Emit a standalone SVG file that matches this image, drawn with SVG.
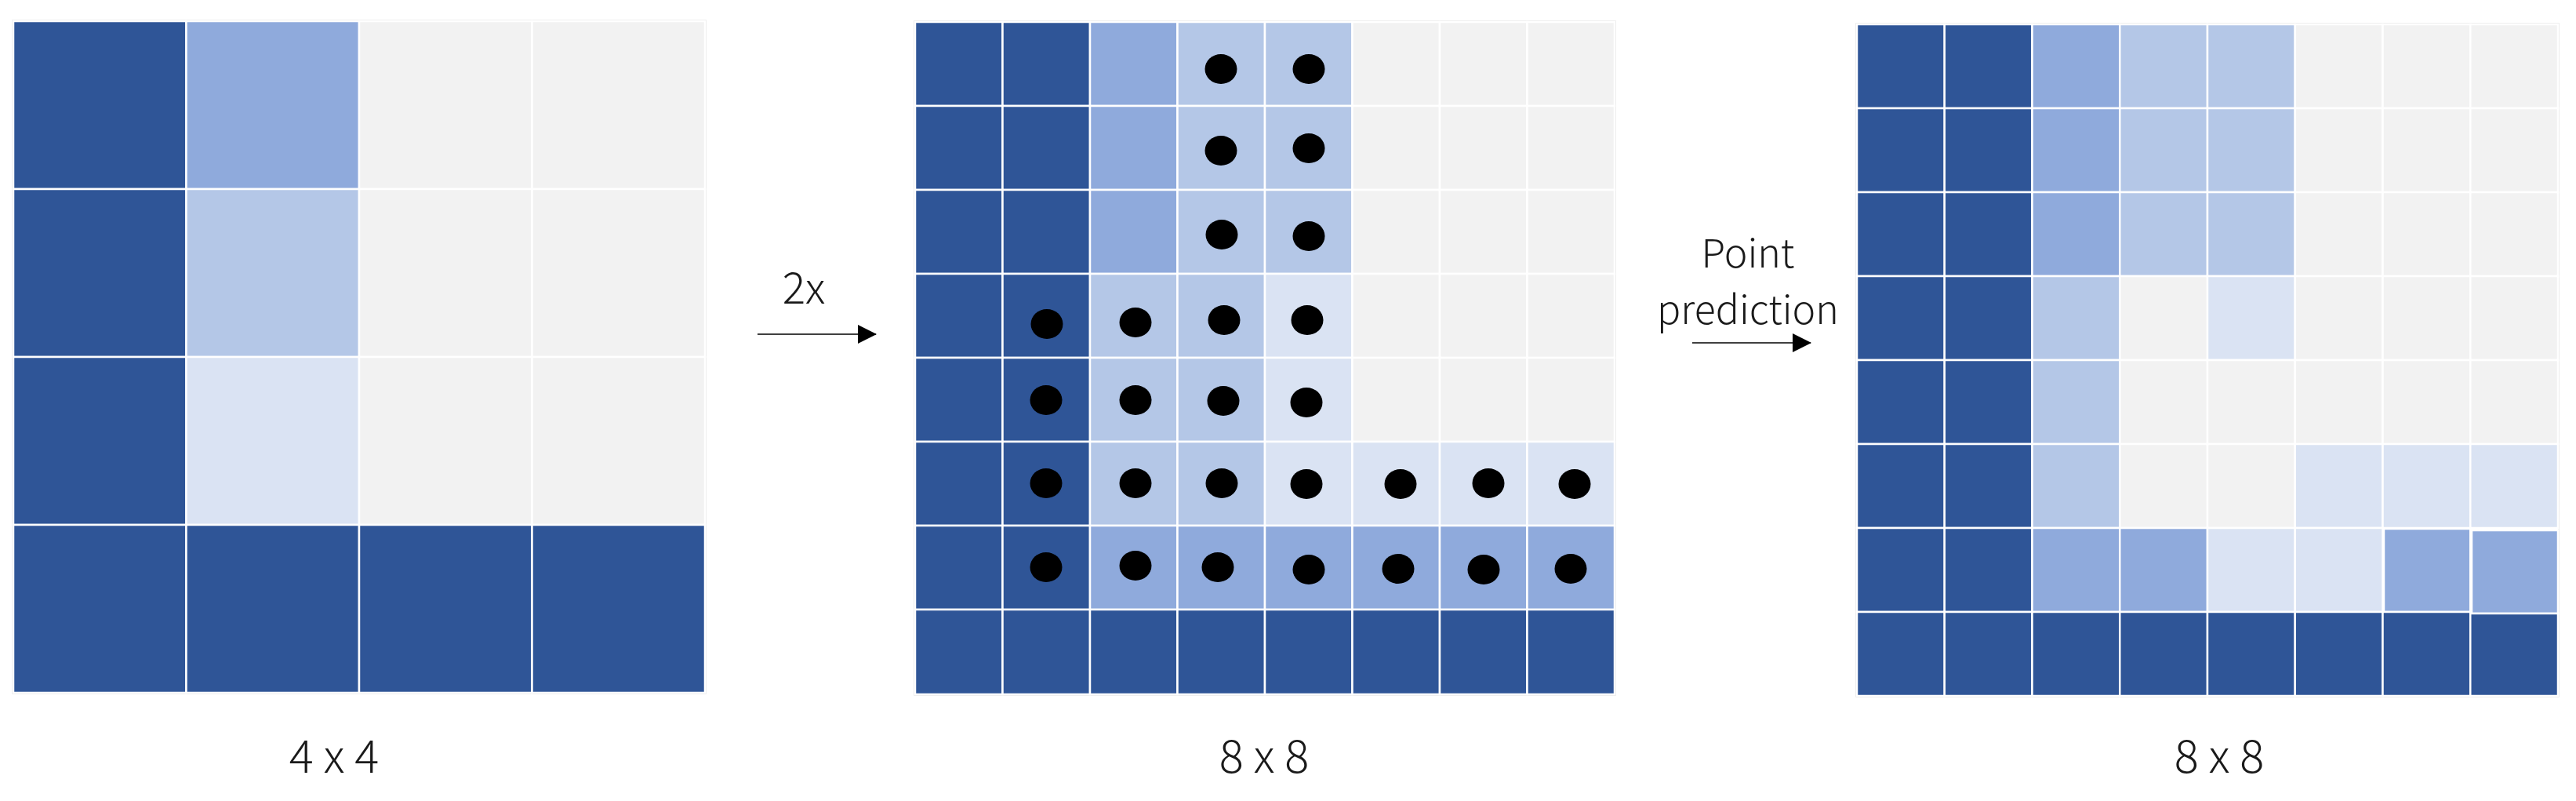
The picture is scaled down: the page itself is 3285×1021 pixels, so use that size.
<svg xmlns="http://www.w3.org/2000/svg" width="3285" height="1021" viewBox="0 0 3285 1021">
<defs>
<style>
rect.c{stroke:#ffffff;stroke-width:2.5}
.d{fill:#2F5597}.m{fill:#8FAADC}.l{fill:#B4C7E7}.x{fill:#DAE3F3}.g{fill:#F2F2F2}
.frame{fill:none;stroke:#e2e2e2;stroke-width:1.5}
.dot{fill:#000000}
.lbl{font-family:"Noto Sans CJK SC","Noto Sans",sans-serif;font-weight:300;fill:#1a1a1a;text-anchor:middle}
.conn{stroke:#404040;stroke-width:2;fill:none}
</style>
<marker id="ah" markerUnits="userSpaceOnUse" markerWidth="24" markerHeight="24" viewBox="0 0 24 24" refX="23" refY="12" orient="auto">
<path d="M0,0 L24,12 L0,24 Z" fill="#000000"/>
</marker>
</defs>
<rect width="3285" height="1021" fill="#ffffff"/>

<g id="grid-4x4">
<rect class="frame" x="16" y="26" width="884" height="858"/>
<rect class="c d" x="17" y="27" width="220.5" height="214"/>
<rect class="c m" x="237.5" y="27" width="220.5" height="214"/>
<rect class="c g" x="458" y="27" width="220.5" height="214"/>
<rect class="c g" x="678.5" y="27" width="220.5" height="214"/>
<rect class="c d" x="17" y="241" width="220.5" height="214"/>
<rect class="c l" x="237.5" y="241" width="220.5" height="214"/>
<rect class="c g" x="458" y="241" width="220.5" height="214"/>
<rect class="c g" x="678.5" y="241" width="220.5" height="214"/>
<rect class="c d" x="17" y="455" width="220.5" height="214"/>
<rect class="c x" x="237.5" y="455" width="220.5" height="214"/>
<rect class="c g" x="458" y="455" width="220.5" height="214"/>
<rect class="c g" x="678.5" y="455" width="220.5" height="214"/>
<rect class="c d" x="17" y="669" width="220.5" height="214"/>
<rect class="c d" x="237.5" y="669" width="220.5" height="214"/>
<rect class="c d" x="458" y="669" width="220.5" height="214"/>
<rect class="c d" x="678.5" y="669" width="220.5" height="214"/>
<text class="lbl" x="426" y="985" font-size="58">4 x 4</text>
</g>

<g id="grid-8x8-upsampled">
<rect class="frame" x="1166" y="27" width="894" height="859"/>
<!-- row 0 -->
<rect class="c d" x="1167" y="28" width="111.5" height="107"/>
<rect class="c d" x="1278.5" y="28" width="111.5" height="107"/>
<rect class="c m" x="1390" y="28" width="111.5" height="107"/>
<rect class="c l" x="1501.5" y="28" width="111.5" height="107"/>
<rect class="c l" x="1613" y="28" width="111.5" height="107"/>
<rect class="c g" x="1724.5" y="28" width="111.5" height="107"/>
<rect class="c g" x="1836" y="28" width="111.5" height="107"/>
<rect class="c g" x="1947.5" y="28" width="111.5" height="107"/>
<!-- row 1 -->
<rect class="c d" x="1167" y="135" width="111.5" height="107"/>
<rect class="c d" x="1278.5" y="135" width="111.5" height="107"/>
<rect class="c m" x="1390" y="135" width="111.5" height="107"/>
<rect class="c l" x="1501.5" y="135" width="111.5" height="107"/>
<rect class="c l" x="1613" y="135" width="111.5" height="107"/>
<rect class="c g" x="1724.5" y="135" width="111.5" height="107"/>
<rect class="c g" x="1836" y="135" width="111.5" height="107"/>
<rect class="c g" x="1947.5" y="135" width="111.5" height="107"/>
<!-- row 2 -->
<rect class="c d" x="1167" y="242" width="111.5" height="107"/>
<rect class="c d" x="1278.5" y="242" width="111.5" height="107"/>
<rect class="c m" x="1390" y="242" width="111.5" height="107"/>
<rect class="c l" x="1501.5" y="242" width="111.5" height="107"/>
<rect class="c l" x="1613" y="242" width="111.5" height="107"/>
<rect class="c g" x="1724.5" y="242" width="111.5" height="107"/>
<rect class="c g" x="1836" y="242" width="111.5" height="107"/>
<rect class="c g" x="1947.5" y="242" width="111.5" height="107"/>
<!-- row 3 -->
<rect class="c d" x="1167" y="349" width="111.5" height="107"/>
<rect class="c d" x="1278.5" y="349" width="111.5" height="107"/>
<rect class="c l" x="1390" y="349" width="111.5" height="107"/>
<rect class="c l" x="1501.5" y="349" width="111.5" height="107"/>
<rect class="c x" x="1613" y="349" width="111.5" height="107"/>
<rect class="c g" x="1724.5" y="349" width="111.5" height="107"/>
<rect class="c g" x="1836" y="349" width="111.5" height="107"/>
<rect class="c g" x="1947.5" y="349" width="111.5" height="107"/>
<!-- row 4 -->
<rect class="c d" x="1167" y="456" width="111.5" height="107"/>
<rect class="c d" x="1278.5" y="456" width="111.5" height="107"/>
<rect class="c l" x="1390" y="456" width="111.5" height="107"/>
<rect class="c l" x="1501.5" y="456" width="111.5" height="107"/>
<rect class="c x" x="1613" y="456" width="111.5" height="107"/>
<rect class="c g" x="1724.5" y="456" width="111.5" height="107"/>
<rect class="c g" x="1836" y="456" width="111.5" height="107"/>
<rect class="c g" x="1947.5" y="456" width="111.5" height="107"/>
<!-- row 5 -->
<rect class="c d" x="1167" y="563" width="111.5" height="107"/>
<rect class="c d" x="1278.5" y="563" width="111.5" height="107"/>
<rect class="c l" x="1390" y="563" width="111.5" height="107"/>
<rect class="c l" x="1501.5" y="563" width="111.5" height="107"/>
<rect class="c x" x="1613" y="563" width="111.5" height="107"/>
<rect class="c x" x="1724.5" y="563" width="111.5" height="107"/>
<rect class="c x" x="1836" y="563" width="111.5" height="107"/>
<rect class="c x" x="1947.5" y="563" width="111.5" height="107"/>
<!-- row 6 -->
<rect class="c d" x="1167" y="670" width="111.5" height="107"/>
<rect class="c d" x="1278.5" y="670" width="111.5" height="107"/>
<rect class="c m" x="1390" y="670" width="111.5" height="107"/>
<rect class="c m" x="1501.5" y="670" width="111.5" height="107"/>
<rect class="c m" x="1613" y="670" width="111.5" height="107"/>
<rect class="c m" x="1724.5" y="670" width="111.5" height="107"/>
<rect class="c m" x="1836" y="670" width="111.5" height="107"/>
<rect class="c m" x="1947.5" y="670" width="111.5" height="107"/>
<!-- row 7 -->
<rect class="c d" x="1167" y="777" width="111.5" height="108"/>
<rect class="c d" x="1278.5" y="777" width="111.5" height="108"/>
<rect class="c d" x="1390" y="777" width="111.5" height="108"/>
<rect class="c d" x="1501.5" y="777" width="111.5" height="108"/>
<rect class="c d" x="1613" y="777" width="111.5" height="108"/>
<rect class="c d" x="1724.5" y="777" width="111.5" height="108"/>
<rect class="c d" x="1836" y="777" width="111.5" height="108"/>
<rect class="c d" x="1947.5" y="777" width="111.5" height="108"/>
<!-- uncertain points -->
<g class="dot">
<ellipse cx="1557" cy="88" rx="20.5" ry="19"/>
<ellipse cx="1669" cy="88" rx="20.5" ry="19"/>
<ellipse cx="1557" cy="192" rx="20.5" ry="19"/>
<ellipse cx="1669" cy="189" rx="20.5" ry="19"/>
<ellipse cx="1558" cy="299" rx="20.5" ry="19"/>
<ellipse cx="1669" cy="301" rx="20.5" ry="19"/>
<ellipse cx="1335" cy="413" rx="20.5" ry="19"/>
<ellipse cx="1448" cy="411" rx="20.5" ry="19"/>
<ellipse cx="1561" cy="408" rx="20.5" ry="19"/>
<ellipse cx="1667" cy="408" rx="20.5" ry="19"/>
<ellipse cx="1334" cy="510" rx="20.5" ry="19"/>
<ellipse cx="1448" cy="510" rx="20.5" ry="19"/>
<ellipse cx="1560" cy="511" rx="20.5" ry="19"/>
<ellipse cx="1666" cy="513" rx="20.5" ry="19"/>
<ellipse cx="1334" cy="616" rx="20.5" ry="19"/>
<ellipse cx="1448" cy="616" rx="20.5" ry="19"/>
<ellipse cx="1558" cy="616" rx="20.5" ry="19"/>
<ellipse cx="1666" cy="617" rx="20.5" ry="19"/>
<ellipse cx="1786" cy="617" rx="20.5" ry="19"/>
<ellipse cx="1898" cy="616" rx="20.5" ry="19"/>
<ellipse cx="2008" cy="617" rx="20.5" ry="19"/>
<ellipse cx="1334" cy="723" rx="20.5" ry="19"/>
<ellipse cx="1448" cy="721" rx="20.5" ry="19"/>
<ellipse cx="1553" cy="723" rx="20.5" ry="19"/>
<ellipse cx="1669" cy="726" rx="20.5" ry="19"/>
<ellipse cx="1783" cy="725" rx="20.5" ry="19"/>
<ellipse cx="1892" cy="726" rx="20.5" ry="19"/>
<ellipse cx="2003" cy="725" rx="20.5" ry="19"/>
</g>
<text class="lbl" x="1612" y="985" font-size="58">8 x 8</text>
</g>

<g id="grid-8x8-refined">
<rect class="frame" x="2367" y="30" width="896" height="858"/>
<!-- row 0 -->
<rect class="c d" x="2368" y="31" width="111.75" height="107"/>
<rect class="c d" x="2479.75" y="31" width="111.75" height="107"/>
<rect class="c m" x="2591.5" y="31" width="111.75" height="107"/>
<rect class="c l" x="2703.25" y="31" width="111.75" height="107"/>
<rect class="c l" x="2815" y="31" width="111.75" height="107"/>
<rect class="c g" x="2926.75" y="31" width="111.75" height="107"/>
<rect class="c g" x="3038.5" y="31" width="111.75" height="107"/>
<rect class="c g" x="3150.25" y="31" width="111.75" height="107"/>
<!-- row 1 -->
<rect class="c d" x="2368" y="138" width="111.75" height="107"/>
<rect class="c d" x="2479.75" y="138" width="111.75" height="107"/>
<rect class="c m" x="2591.5" y="138" width="111.75" height="107"/>
<rect class="c l" x="2703.25" y="138" width="111.75" height="107"/>
<rect class="c l" x="2815" y="138" width="111.75" height="107"/>
<rect class="c g" x="2926.75" y="138" width="111.75" height="107"/>
<rect class="c g" x="3038.5" y="138" width="111.75" height="107"/>
<rect class="c g" x="3150.25" y="138" width="111.75" height="107"/>
<!-- row 2 -->
<rect class="c d" x="2368" y="245" width="111.75" height="107"/>
<rect class="c d" x="2479.75" y="245" width="111.75" height="107"/>
<rect class="c m" x="2591.5" y="245" width="111.75" height="107"/>
<rect class="c l" x="2703.25" y="245" width="111.75" height="107"/>
<rect class="c l" x="2815" y="245" width="111.75" height="107"/>
<rect class="c g" x="2926.75" y="245" width="111.75" height="107"/>
<rect class="c g" x="3038.5" y="245" width="111.75" height="107"/>
<rect class="c g" x="3150.25" y="245" width="111.75" height="107"/>
<!-- row 3 -->
<rect class="c d" x="2368" y="352" width="111.75" height="107"/>
<rect class="c d" x="2479.75" y="352" width="111.75" height="107"/>
<rect class="c l" x="2591.5" y="352" width="111.75" height="107"/>
<rect class="c g" x="2703.25" y="352" width="111.75" height="107"/>
<rect class="c x" x="2815" y="352" width="111.75" height="107"/>
<rect class="c g" x="2926.75" y="352" width="111.75" height="107"/>
<rect class="c g" x="3038.5" y="352" width="111.75" height="107"/>
<rect class="c g" x="3150.25" y="352" width="111.75" height="107"/>
<!-- row 4 -->
<rect class="c d" x="2368" y="459" width="111.75" height="107"/>
<rect class="c d" x="2479.75" y="459" width="111.75" height="107"/>
<rect class="c l" x="2591.5" y="459" width="111.75" height="107"/>
<rect class="c g" x="2703.25" y="459" width="111.75" height="107"/>
<rect class="c g" x="2815" y="459" width="111.75" height="107"/>
<rect class="c g" x="2926.75" y="459" width="111.75" height="107"/>
<rect class="c g" x="3038.5" y="459" width="111.75" height="107"/>
<rect class="c g" x="3150.25" y="459" width="111.75" height="107"/>
<!-- row 5 -->
<rect class="c d" x="2368" y="566" width="111.75" height="107"/>
<rect class="c d" x="2479.75" y="566" width="111.75" height="107"/>
<rect class="c l" x="2591.5" y="566" width="111.75" height="107"/>
<rect class="c g" x="2703.25" y="566" width="111.75" height="107"/>
<rect class="c g" x="2815" y="566" width="111.75" height="107"/>
<rect class="c x" x="2926.75" y="566" width="111.75" height="107"/>
<rect class="c x" x="3038.5" y="566" width="111.75" height="107"/>
<rect class="c x" x="3150.25" y="566" width="111.75" height="107"/>
<!-- row 6 -->
<rect class="c d" x="2368" y="673" width="111.75" height="107"/>
<rect class="c d" x="2479.75" y="673" width="111.75" height="107"/>
<rect class="c m" x="2591.5" y="673" width="111.75" height="107"/>
<rect class="c m" x="2703.25" y="673" width="111.75" height="107"/>
<rect class="c x" x="2815" y="673" width="111.75" height="107"/>
<rect class="c x" x="2926.75" y="673" width="111.75" height="107"/>
<rect class="c m" x="3040" y="674" width="110.25" height="106"/>
<rect class="c m" x="3152" y="676" width="110" height="106"/>
<!-- row 7 -->
<rect class="c d" x="2368" y="780" width="111.75" height="107"/>
<rect class="c d" x="2479.75" y="780" width="111.75" height="107"/>
<rect class="c d" x="2591.5" y="780" width="111.75" height="107"/>
<rect class="c d" x="2703.25" y="780" width="111.75" height="107"/>
<rect class="c d" x="2815" y="780" width="111.75" height="107"/>
<rect class="c d" x="2926.75" y="780" width="111.75" height="107"/>
<rect class="c d" x="3038.5" y="780" width="111.75" height="107"/>
<rect class="c d" x="3150.25" y="782" width="111.75" height="105"/>
<text class="lbl" x="2830" y="985" font-size="58">8 x 8</text>
</g>

<g id="connectors">
<line class="conn" x1="966" y1="426" x2="1117" y2="426" marker-end="url(#ah)"/>
<text class="lbl" x="1025" y="387" font-size="55">2x</text>
<line class="conn" x1="2158" y1="437" x2="2309" y2="437" marker-end="url(#ah)"/>
<text class="lbl" x="2229" y="341" font-size="50">Point</text>
<text class="lbl" x="2229" y="413" font-size="50">prediction</text>
</g>
</svg>
